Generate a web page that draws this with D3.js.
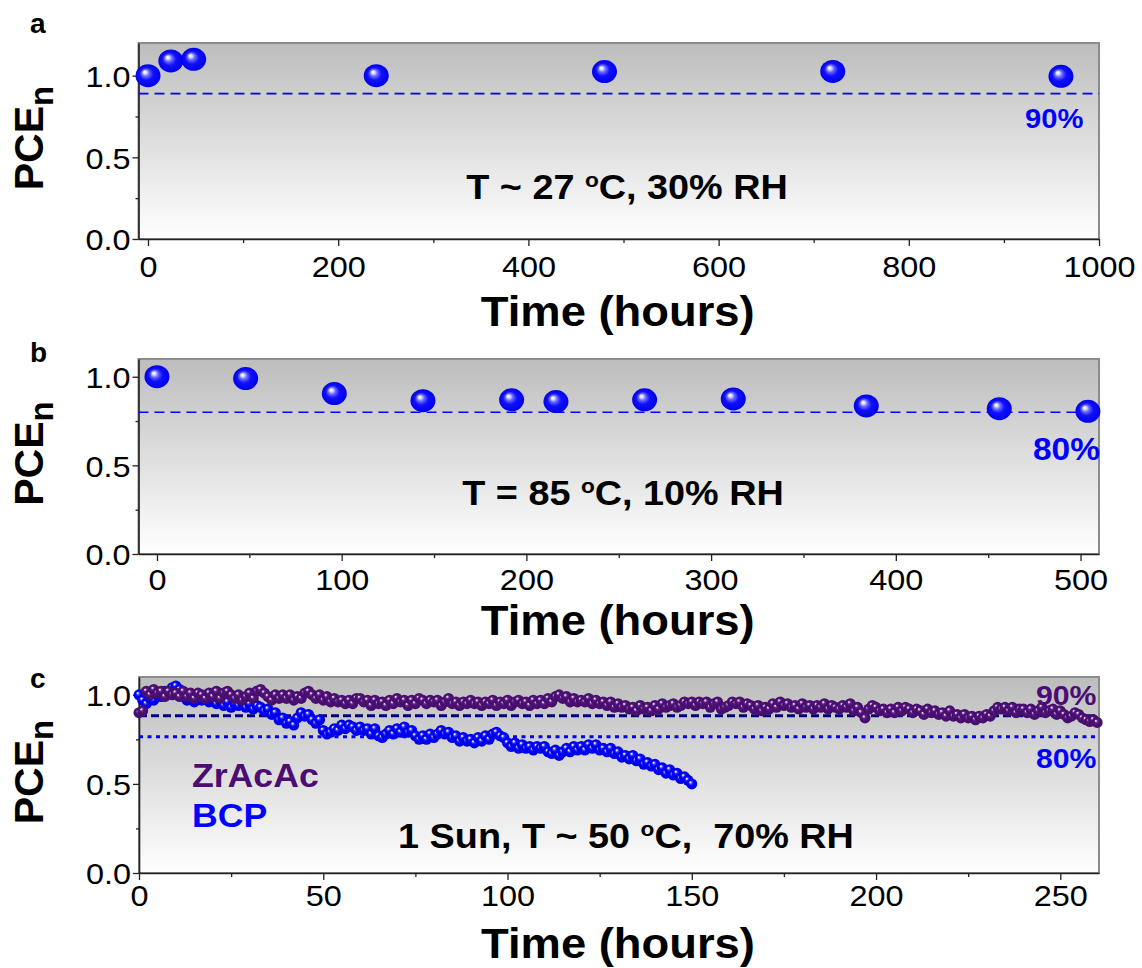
<!DOCTYPE html>
<html><head><meta charset="utf-8">
<script src="https://cdn.jsdelivr.net/npm/d3@7"></script>
<style>
body{margin:0;background:#fff;}
svg{display:block;font-family:"Liberation Sans",Arial,sans-serif;}
text{white-space:pre;}
</style></head><body>
<svg id="chart" width="1142" height="968"></svg>
<script>
// ---------- DATA ----------
const aTime = [0, 24, 48, 240, 480, 720, 960];
const aPCE  = [1.00, 1.09, 1.10, 1.00, 1.025, 1.026, 0.996];
const aXTicks = [0, 200, 400, 600, 800, 1000];
const aXMinor = [100, 300, 500, 700, 900];

const bTime = [0, 48, 96, 144, 192, 216, 264, 312, 384, 456, 504];
const bPCE  = [1.00, 0.99, 0.905, 0.865, 0.87, 0.86, 0.87, 0.875, 0.835, 0.82, 0.805];
const bXTicks = [0, 100, 200, 300, 400, 500];
const bXMinor = [50, 150, 250, 350, 450];

const cXTicks = [0, 50, 100, 150, 200, 250];
const cXMinor = [25, 75, 125, 175, 225];
const yTicks = [0, 0.5, 1.0];
const yMinor = [0.25, 0.75];

// hourly readings, panel c
const zrPCE = [
 0.90,0.91,1.02,1.00,1.03,1.01,1.02,0.99,1.02,1.00,
 1.01,0.99,1.02,0.99,1.01,0.98,1.01,1.00,0.98,1.01,
 0.99,1.02,0.98,1.01,1.02,1.00,0.98,1.00,0.97,0.99,
 1.01,0.98,1.02,1.03,1.01,0.99,0.97,1.00,0.98,1.00,
 0.98,1.00,0.97,0.99,0.98,1.01,1.02,1.00,0.98,1.00,
 0.97,0.99,0.96,0.98,0.96,0.97,0.95,0.97,0.95,0.98,
 0.98,0.96,0.97,0.94,0.97,0.95,0.96,0.94,0.97,0.95,
 0.98,0.96,0.97,0.94,0.97,0.95,0.98,0.97,0.95,0.97,
 0.96,0.97,0.94,0.96,0.98,0.95,0.96,0.94,0.96,0.95,
 0.97,0.95,0.96,0.94,0.96,0.95,0.97,0.94,0.96,0.95,
 0.97,0.94,0.96,0.97,0.95,0.96,0.94,0.97,0.95,0.97,
 0.95,0.98,0.96,0.99,1.00,0.98,0.99,0.96,0.98,0.96,
 0.97,0.96,0.98,0.95,0.97,0.95,0.96,0.94,0.96,0.93,
 0.95,0.93,0.94,0.92,0.93,0.91,0.94,0.92,0.93,0.91,
 0.94,0.92,0.95,0.93,0.94,0.95,0.93,0.94,0.96,0.95,
 0.96,0.94,0.96,0.95,0.96,0.93,0.95,0.96,0.92,0.93,
 0.94,0.96,0.95,0.96,0.93,0.95,0.94,0.92,0.94,0.91,
 0.93,0.92,0.95,0.93,0.96,0.94,0.95,0.93,0.94,0.92,
 0.95,0.93,0.94,0.92,0.94,0.93,0.95,0.92,0.94,0.93,
 0.92,0.94,0.93,0.95,0.91,0.93,0.90,0.87,0.92,0.94,
 0.93,0.91,0.92,0.90,0.92,0.90,0.93,0.91,0.93,0.92,
 0.90,0.92,0.91,0.89,0.92,0.90,0.91,0.89,0.90,0.88,
 0.91,0.88,0.89,0.87,0.89,0.87,0.88,0.86,0.88,0.87,
 0.89,0.88,0.91,0.93,0.92,0.93,0.91,0.93,0.90,0.92,
 0.92,0.90,0.92,0.89,0.91,0.93,0.90,0.91,0.92,0.89,
 0.91,0.89,0.87,0.88,0.90,0.89,0.87,0.86,0.85,0.86,
 0.845];
const bcpPCE = [
 1.00,0.97,0.95,0.98,0.97,1.00,0.99,1.02,1.01,1.04,
 1.05,1.03,1.00,0.97,0.99,0.96,0.99,0.97,0.98,0.96,
 0.98,0.95,0.97,0.94,0.96,0.93,0.95,0.94,0.96,0.93,
 0.95,0.92,0.94,0.93,0.91,0.92,0.89,0.90,0.86,0.87,
 0.84,0.85,0.83,0.87,0.90,0.88,0.89,0.86,0.84,0.86,
 0.80,0.78,0.79,0.81,0.80,0.83,0.81,0.83,0.82,0.80,
 0.82,0.80,0.81,0.78,0.81,0.77,0.76,0.78,0.80,0.78,
 0.81,0.79,0.82,0.79,0.80,0.77,0.75,0.77,0.75,0.78,
 0.76,0.78,0.80,0.78,0.79,0.76,0.77,0.74,0.76,0.74,
 0.75,0.73,0.76,0.74,0.77,0.75,0.78,0.79,0.77,0.76,
 0.73,0.71,0.73,0.70,0.72,0.70,0.71,0.69,0.71,0.70,
 0.71,0.68,0.67,0.69,0.66,0.68,0.70,0.68,0.71,0.69,
 0.71,0.69,0.72,0.70,0.72,0.69,0.70,0.68,0.70,0.67,
 0.68,0.65,0.66,0.64,0.66,0.63,0.64,0.61,0.62,0.60,
 0.61,0.58,0.59,0.56,0.58,0.55,0.56,0.53,0.54,0.52,
 0.50];
const zrTime = zrPCE.map((_, i) => i);   // hourly sampling
const bcpTime = bcpPCE.map((_, i) => i);

// ---------- DRAW ----------
const svg = d3.select("#chart");
const SX = 1.08;
const defs = svg.append("defs");
const bg = defs.append("linearGradient").attr("id","bg").attr("x1",0).attr("y1",0).attr("x2",0).attr("y2",1);
bg.append("stop").attr("offset","0").attr("stop-color","#bdbdbd");
bg.append("stop").attr("offset","1").attr("stop-color","#ffffff");
function sphere(id, stops){
  const g = defs.append("radialGradient").attr("id",id).attr("cx","0.5").attr("cy","0.5").attr("r","0.5").attr("fx","0.36").attr("fy","0.33");
  stops.forEach(s=>g.append("stop").attr("offset",s[0]).attr("stop-color",s[1]));
}
sphere("sphB", [[0,"#ffffff"],[0.12,"#e4e4ff"],[0.3,"#6a6aff"],[0.55,"#1010ff"],[1,"#0000e8"]]);
sphere("sphBs", [[0,"#ffffff"],[0.1,"#dcdcff"],[0.28,"#3c3cff"],[0.5,"#0000ff"],[1,"#0000e0"]]);
sphere("sphP", [[0,"#f6ecfa"],[0.12,"#d2b6e0"],[0.3,"#5e2288"],[0.55,"#4b0f74"],[1,"#440e68"]]);

function label(x, y, parts, size, color, anchor){
  const g = svg.append("g").attr("transform",`translate(${x},${y}) scale(${SX},1)`);
  const t = g.append("text").attr("font-size",size).attr("font-weight","bold")
    .attr("fill",color).attr("text-anchor",anchor||"start");
  if (typeof parts === "string") { t.text(parts); return; }
  parts.forEach(p=>{
    const ts = t.append("tspan").text(p.s);
    if (p.sup) ts.attr("font-size", size*0.6).attr("dy", -12);
    else if (p.after) ts.attr("dy", 12);
  });
}

function panel(cfg){
  const x = d3.scaleLinear().domain(cfg.xDomain).range([cfg.left, cfg.right]);
  const y = d3.scaleLinear().domain(cfg.yDomain).range([cfg.bottom, cfg.top]);
  const g = svg.append("g");
  g.append("rect").attr("x",cfg.left).attr("y",cfg.top)
    .attr("width",cfg.right-cfg.left).attr("height",cfg.bottom-cfg.top)
    .attr("fill","url(#bg)").attr("stroke","#8c8c8c").attr("stroke-width",2);

  const xa = g.append("g").attr("transform",`translate(0,${cfg.bottom})`)
    .call(d3.axisBottom(x).tickValues(cfg.xTicks).tickSize(7).tickSizeOuter(0).tickFormat(d3.format("d")));
  xa.selectAll("text").attr("y", cfg.tickBase).attr("dy",0).attr("font-size",30)
    .attr("font-family","Liberation Sans, Arial, sans-serif").attr("fill","#000")
    .attr("transform",`scale(${SX},1)`);
  g.append("g").attr("transform",`translate(0,${cfg.bottom})`)
    .call(d3.axisBottom(x).tickValues(cfg.xMinor).tickSize(4).tickSizeOuter(0).tickFormat(""))
    .select(".domain").remove();
  const ya = g.append("g").attr("transform",`translate(${cfg.left},0)`)
    .call(d3.axisLeft(y).tickValues(yTicks).tickSize(6).tickSizeOuter(0).tickFormat(d3.format(".1f")));
  ya.selectAll("text").attr("x",-8/SX).attr("dy","0.36em").attr("font-size",30)
    .attr("font-family","Liberation Sans, Arial, sans-serif").attr("fill","#000")
    .attr("transform",`scale(${SX},1)`);
  g.append("g").attr("transform",`translate(${cfg.left},0)`)
    .call(d3.axisLeft(y).tickValues(yMinor).tickSize(3).tickSizeOuter(0).tickFormat(""))
    .select(".domain").remove();
  g.selectAll(".domain").attr("stroke","#222").attr("stroke-width",1.6);
  g.selectAll(".tick line").attr("stroke","#222").attr("stroke-width",1.3);

  const yl = svg.append("text").attr("transform",`translate(43,${(cfg.top+cfg.bottom)/2 - 3}) rotate(-90)`)
    .attr("text-anchor","middle").attr("font-weight","bold").attr("font-size",41).attr("fill","#000");
  yl.append("tspan").text("PCE");
  yl.append("tspan").text("n").attr("font-size",33).attr("dy",10);
  label((cfg.left+cfg.right)/2 - 1, cfg.bottom + cfg.timeBase, "Time (hours)", 42, "#000", "middle");
  svg.append("text").attr("x",30).attr("y",cfg.letterY).attr("font-size",28).attr("font-weight","bold").text(cfg.letter);
  return {g, x, y};
}

// ----- panel a -----
const pa = panel({left:138.5,right:1099,top:43,bottom:239,xDomain:[-10,1000],yDomain:[0,1.2],
  xTicks:aXTicks,xMinor:aXMinor,tickBase:38,timeBase:87,letter:"a",letterY:33});
pa.g.append("line").attr("x1",pa.x(-10)).attr("x2",pa.x(1000)).attr("y1",pa.y(0.89)).attr("y2",pa.y(0.89))
  .attr("stroke","#0000ff").attr("stroke-width",1.6).attr("stroke-dasharray","10,6");
pa.g.selectAll("ellipse.pt").data(aTime.map((t,i)=>[t,aPCE[i]])).join("ellipse")
  .attr("cx",d=>pa.x(d[0])).attr("cy",d=>pa.y(d[1])).attr("rx",12.5).attr("ry",11.5).attr("fill","url(#sphB)");
label(1025,128,"90%",27,"#0000ff");
label(627,199,[{s:"T ~ 27 "},{s:"o",sup:true},{s:"C, 30% RH",after:true}],35,"#000","middle");

// ----- panel b -----
const pb = panel({left:138.5,right:1099,top:359,bottom:554,xDomain:[-10,510],yDomain:[0,1.1],
  xTicks:bXTicks,xMinor:bXMinor,tickBase:36,timeBase:81,letter:"b",letterY:362});
pb.g.append("line").attr("x1",pb.x(-10)).attr("x2",pb.x(510)).attr("y1",pb.y(0.8)).attr("y2",pb.y(0.8))
  .attr("stroke","#0000ff").attr("stroke-width",1.6).attr("stroke-dasharray","10,6");
pb.g.selectAll("ellipse.pt").data(bTime.map((t,i)=>[t,bPCE[i]])).join("ellipse")
  .attr("cx",d=>pb.x(d[0])).attr("cy",d=>pb.y(d[1])).attr("rx",12.5).attr("ry",11.5).attr("fill","url(#sphB)");
label(1033,460,"80%",31,"#0000ff");
label(623,505,[{s:"T = 85 "},{s:"o",sup:true},{s:"C, 10% RH",after:true}],35,"#000","middle");

// ----- panel c -----
const pc = panel({left:139,right:1099,top:677,bottom:873,xDomain:[0,260.5],yDomain:[0,1.1],
  xTicks:cXTicks,xMinor:cXMinor,tickBase:33,timeBase:85,letter:"c",letterY:688});
pc.g.append("line").attr("x1",pc.x(0)).attr("x2",pc.x(260.5)).attr("y1",pc.y(0.883)).attr("y2",pc.y(0.883))
  .attr("stroke","#000080").attr("stroke-width",3).attr("stroke-dasharray","8,4");
pc.g.append("line").attr("x1",pc.x(0)).attr("x2",pc.x(260.5)).attr("y1",pc.y(0.764)).attr("y2",pc.y(0.764))
  .attr("stroke","#0000ff").attr("stroke-width",3).attr("stroke-dasharray","4,4.5");
pc.g.append("g").selectAll("circle").data(bcpTime.map((t,i)=>[t,bcpPCE[i]])).join("circle")
  .attr("cx",d=>pc.x(d[0])).attr("cy",d=>pc.y(d[1])).attr("r",5.5).attr("fill","url(#sphBs)");
pc.g.append("g").selectAll("circle").data(zrTime.map((t,i)=>[t,zrPCE[i]])).join("circle")
  .attr("cx",d=>pc.x(d[0])).attr("cy",d=>pc.y(d[1])).attr("r",5.5).attr("fill","url(#sphP)");
label(1036,705,"90%",28,"#4b0c73");
label(1036,768,"80%",28,"#0000ff");
label(192,787,"ZrAcAc",33,"#4b0c73");
label(192,827,"BCP",33,"#0000ff");
label(626,848,[{s:"1 Sun, T ~ 50 "},{s:"o",sup:true},{s:"C,  70% RH",after:true}],35,"#000","middle");
</script>
</body></html>
